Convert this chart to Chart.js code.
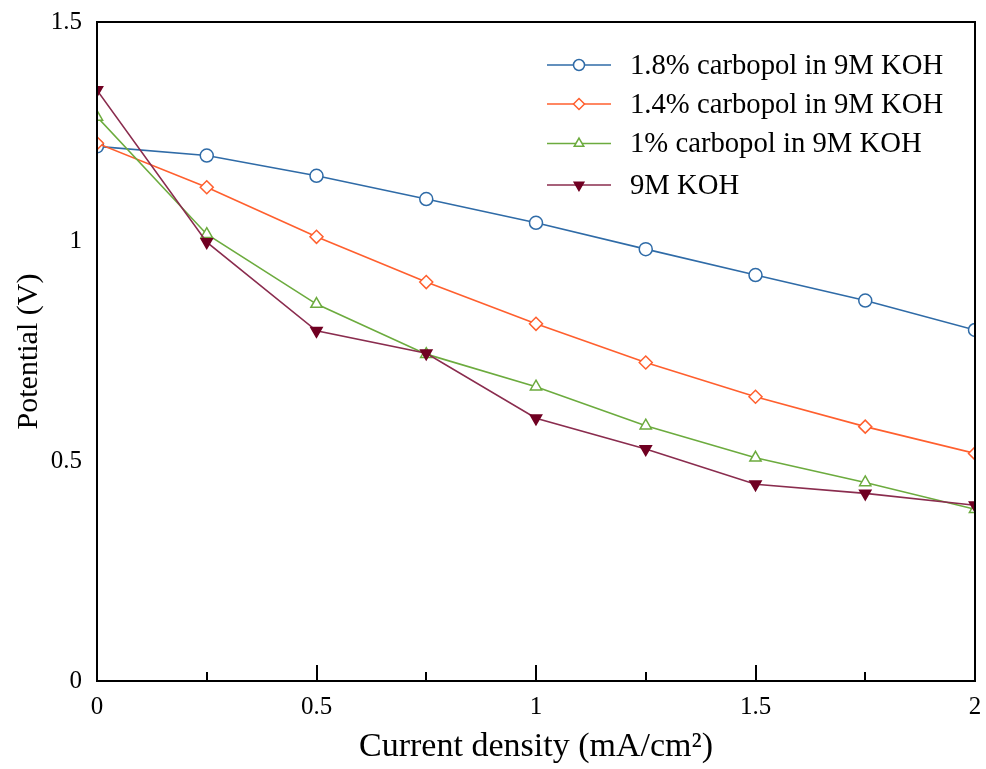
<!DOCTYPE html>
<html>
<head>
<meta charset="utf-8">
<title>Polarization curves</title>
<script src="https://cdn.jsdelivr.net/npm/chart.js@4.4.1/dist/chart.umd.min.js"></script>
<style>
  html, body { margin: 0; padding: 0; background: #fff; }
  #wrap { width: 986px; height: 769px; }
</style>
</head>
<body>
<div id="wrap"><canvas id="polChart" width="986" height="769"></canvas></div>
<script>
// current density (mA/cm2) and cell potential (V)
var currentDensity = [0, 0.25, 0.5, 0.75, 1, 1.25, 1.5, 1.75, 2];
var carbopol18 = [1.217, 1.196, 1.150, 1.097, 1.043, 0.983, 0.924, 0.866, 0.799];
var carbopol14 = [1.224, 1.124, 1.011, 0.908, 0.813, 0.725, 0.647, 0.579, 0.518];
var carbopol10 = [1.284, 1.017, 0.858, 0.744, 0.670, 0.581, 0.508, 0.452, 0.391];
var koh9m = [1.345, 0.999, 0.797, 0.746, 0.598, 0.528, 0.448, 0.427, 0.400];
var seriesNames = ['1.8% carbopol in 9M KOH', '1.4% carbopol in 9M KOH', '1% carbopol in 9M KOH', '9M KOH'];
var xTicks = [0, 0.5, 1, 1.5, 2];
var yTicks = [0, 0.5, 1, 1.5];

var serif = "'Liberation Serif', 'Times New Roman', serif";

function toPoints(ys) {
    return ys.map(function (y, i) { return { x: currentDensity[i], y: y } })
}

function series(label, ys, line, marker, style, filled, rotation, order) {
    return {
        label: label,
        data: toPoints(ys),
        borderColor: line,
        borderWidth: 1.6,
        pointStyle: style,
        pointRotation: rotation || 0,
        pointRadius: 6.5,
        pointHoverRadius: 6.5,
        pointBorderWidth: 1.5,
        pointBorderColor: marker,
        pointBackgroundColor: filled ? marker : '#ffffff',
        tension: 0,
        fill: false,
        order: order
    }
}

var datasets = [
    series(seriesNames[0], carbopol18, '#2f6ba7', '#2f6ba7', 'circle', false, 0, 4),
    series(seriesNames[1], carbopol14, '#ff5f2e', '#ff5f2e', 'rectRot', false, 0, 3),
    series(seriesNames[2], carbopol10, '#6cab3e', '#6cab3e', 'triangle', false, 0, 2),
    series(seriesNames[3], koh9m, '#8a2c4e', '#700022', 'triangle', true, 180, 1)
];

// tick labels may hang over the plot edges without shrinking it
function noEdgePadding(scale) {
    scale.paddingTop = 0;
    scale.paddingRight = 0;
    scale.paddingBottom = 0;
    scale.paddingLeft = 0;
}

// box around the plot plus inward tick marks on the x axis
var frameAndTicks = {
    id: 'frameAndTicks',
    afterDatasetsDraw: function (chart) {
        var ctx = chart.ctx, a = chart.chartArea, xs = chart.scales.x;
        ctx.save();
        ctx.strokeStyle = '#000';
        ctx.lineWidth = 2;
        ctx.strokeRect(a.left, a.top, a.right - a.left, a.bottom - a.top);
        ctx.beginPath();
        xs.ticks.forEach(function (t) {
            if (t.value <= xs.min || t.value >= xs.max) return;
            var px = Math.round(xs.getPixelForValue(t.value));
            var len = (Math.abs(t.value * 2 - Math.round(t.value * 2)) < 1e-6) ? 16 : 9;
            ctx.moveTo(px, a.bottom);
            ctx.lineTo(px, a.bottom - len);
        });
        ctx.stroke();
        ctx.restore();
    }
};

// legend with a short line and the marker in its middle
var lineLegend = {
    id: 'lineLegend',
    afterDraw: function (chart) {
        var ctx = chart.ctx;
        var x0 = 547, x1 = 611, textX = 630, rows = [65, 104, 143.5, 185];
        ctx.save();
        chart.data.datasets.forEach(function (ds, i) {
            var y = rows[i];
            ctx.strokeStyle = ds.borderColor;
            ctx.lineWidth = 1.5;
            ctx.beginPath();
            ctx.moveTo(x0, y);
            ctx.lineTo(x1, y);
            ctx.stroke();
            ctx.strokeStyle = ds.pointBorderColor;
            ctx.fillStyle = ds.pointBackgroundColor;
            ctx.lineWidth = 1.5;
            Chart.helpers.drawPoint(ctx, {
                pointStyle: ds.pointStyle,
                rotation: ds.pointRotation,
                radius: 5.5,
                borderWidth: 1.5
            }, (x0 + x1) / 2, y);
            ctx.fillStyle = '#000';
            ctx.font = '28.7px ' + serif;
            ctx.textAlign = 'left';
            ctx.textBaseline = 'middle';
            ctx.fillText(ds.label, textX, y + 1);
        });
        ctx.restore();
    }
};

var ctx = document.getElementById('polChart').getContext('2d');
new Chart(ctx, {
    type: 'line',
    data: { datasets: datasets },
    options: {
        responsive: false,
        animation: false,
        layout: { padding: { top: 22, right: 11, left: 0, bottom: 0 } },
        plugins: {
            legend: { display: false },
            tooltip: { enabled: false }
        },
        scales: {
            x: {
                type: 'linear',
                min: 0,
                max: 2,
                afterFit: function (scale) {
                    scale.height = 88;
                    noEdgePadding(scale);
                },
                afterBuildTicks: function (scale) {
                    scale.ticks = [0, 0.25, 0.5, 0.75, 1, 1.25, 1.5, 1.75, 2].map(function (v) { return { value: v } })
                },
                grid: { display: false, drawTicks: false },
                border: { display: false },
                ticks: {
                    autoSkip: false,
                    maxRotation: 0,
                    padding: 11,
                    color: '#000',
                    font: { family: serif, size: 25 },
                    callback: function (v) { return xTicks.indexOf(v) >= 0 ? String(v) : '' }
                },
                title: {
                    display: true,
                    text: 'Current density (mA/cm²)',
                    color: '#000',
                    font: { family: serif, size: 34 },
                    padding: { top: 0, bottom: 2 }
                }
            },
            y: {
                min: 0,
                max: 1.5,
                afterFit: function (scale) {
                    scale.width = 97;
                    noEdgePadding(scale);
                },
                afterBuildTicks: function (scale) {
                    scale.ticks = yTicks.map(function (v) { return { value: v } })
                },
                grid: { display: false, drawTicks: false },
                border: { display: false },
                ticks: {
                    padding: 15,
                    color: '#000',
                    font: { family: serif, size: 25 },
                    callback: function (v) { return String(v) }
                },
                title: {
                    display: true,
                    text: 'Potential (V)',
                    color: '#000',
                    font: { family: serif, size: 30 },
                    padding: { top: 11, bottom: 0 }
                }
            }
        }
    },
    plugins: [frameAndTicks, lineLegend]
});
</script>
</body>
</html>
